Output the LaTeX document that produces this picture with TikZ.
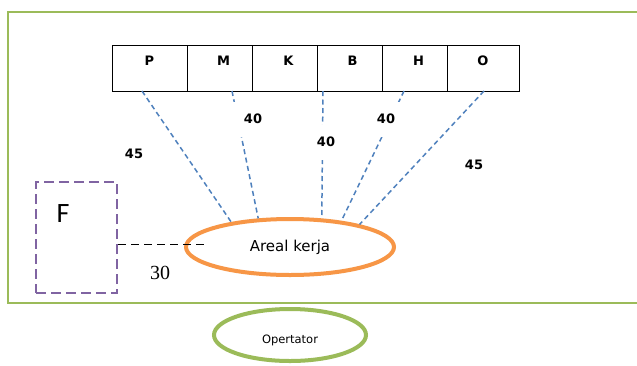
\documentclass[tikz,border=0pt]{standalone}
\usepackage{fontspec}
\setmainfont{DejaVu Sans}
\newfontfamily\calib{Carlito}
\newfontfamily\tms{Liberation Serif}
\usetikzlibrary{shapes.geometric}

\definecolor{framegreen}{HTML}{9BBB59}
\definecolor{linkblue}{HTML}{4F81BD}
\definecolor{workorange}{HTML}{F79646}
\definecolor{boxpurple}{HTML}{8064A2}

\tikzset{
  frame/.style={draw=framegreen, line width=2.2pt},
  cell/.style={draw=black, line width=1pt, minimum height=46pt, inner sep=0pt},
  letter/.style={font=\bfseries\fontsize{13}{13}\selectfont},
  link/.style={draw=linkblue, line width=1.5pt, dash pattern=on 5pt off 3.5pt},
  dist/.style={fill=white, minimum width=58pt, minimum height=35pt, inner sep=0pt,
               font=\bfseries\fontsize{13}{13}\selectfont},
  workarea/.style={ellipse, draw=workorange, line width=4pt, fill=white,
                   minimum width=208pt, minimum height=56pt, inner sep=0pt,
                   font=\fontsize{15}{15}\selectfont},
  operator/.style={ellipse, draw=framegreen, line width=4pt, fill=white,
                   minimum width=152pt, minimum height=52pt, inner sep=0pt,
                   font=\fontsize{11.5}{11.5}\selectfont},
  fbox/.style={draw=boxpurple, line width=2.5pt, dash pattern=on 10pt off 5pt,
               minimum width=81pt, minimum height=111pt, inner sep=0pt},
  blackdash/.style={draw=black, line width=1.7pt, dash pattern=on 8pt off 5pt}
}

\begin{document}
\begin{tikzpicture}[x=1pt,y=-1pt]
\useasboundingbox (0,0) rectangle (637,365);
\fill[white] (0,0) rectangle (637,365);

% outer green frame (continues past the right edge)
\draw[frame] (8,12) rectangle (660,303);

% row of labelled cells
\node[cell, minimum width=75pt, label={[letter, yshift=7pt]center:P}] (cp) at (149.5,68) {};
\node[cell, minimum width=65pt, label={[letter, yshift=7pt, xshift=4pt]center:M}] (cm) at (219.5,68) {};
\node[cell, minimum width=65pt, label={[letter, yshift=7pt, xshift=4pt]center:K}] (ck) at (284.5,68) {};
\node[cell, minimum width=65pt, label={[letter, yshift=7pt, xshift=3pt]center:B}] (cb) at (349.5,68) {};
\node[cell, minimum width=65pt, label={[letter, yshift=7pt, xshift=4pt]center:H}] (ch) at (414.5,68) {};
\node[cell, minimum width=72pt, label={[letter, yshift=7pt]center:O}] (co) at (483,68) {};

% work area and operator
\node[workarea] (ak) at (290,247) {Areal kerja};
\node[operator, text depth=0pt, text height=0pt] (op) at (290,335) {\raisebox{-8pt}{Opertator}};

% start points of the links on the lower edge of the cells
\coordinate (t1) at (142,91);
\coordinate (t2) at (232,91);
\coordinate (t3) at (323,91);
\coordinate (t4) at (404,91);
\coordinate (t5) at (484,91);

\draw[link] (t1) -- (ak.157.4);
\draw[link] (t2) -- (ak.138.2);
\draw[link] (t3) -- (ak.42.7);
\draw[link] (t4) -- (ak.27.6);
\draw[link] (t5) -- (ak.18);

% distance labels
\node[dist] (d45a) at (134,154) {45};
\node[dist] (d40a) at (253,119) {40};
\node[dist] (d40b) at (326,142) {40};
\node[dist] (d40c) at (386,119) {40};
\node[dist] (d45b) at (474,165) {45};

% facility box F and its link to the work area
\node[fbox] (fb) at (76.5,237.5) {};
\node[font=\calib\fontsize{28}{28}\selectfont] (fl) at (63,214) {F};
\coordinate (dl) at (207,244.5);
\draw[blackdash] (fb.east |- dl) -- (dl);
\node[font=\tms\fontsize{20}{20}\selectfont] (d30) at (160,273) {30};
\end{tikzpicture}
\end{document}
